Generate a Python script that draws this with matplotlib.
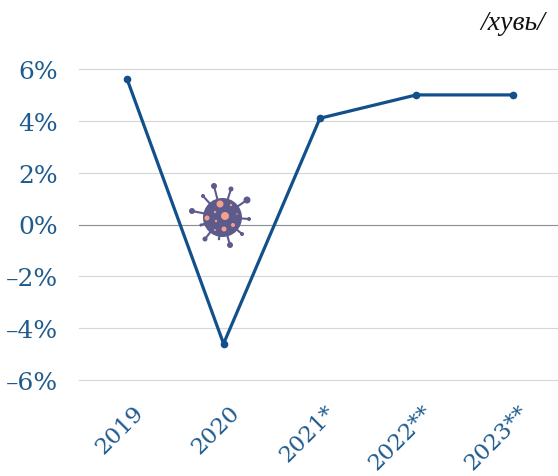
import matplotlib
matplotlib.use('Agg')
import matplotlib.pyplot as plt
from matplotlib.transforms import ScaledTranslation

W, H = 558, 477

# values
years = ['2019', '2020', '2021*', '2022**', '2023**']
growth = [5.6, -4.6, 4.1, 5.0, 5.0]
y_ticks = [-6, -4, -2, 0, 2, 4, 6]
y_labels = ['\u20136%', '\u20134%', '\u20132%', '0%', '2%', '4%', '6%']

# virus icon, in pixels from its centre
spike_x = [-8, 9, 25, 27, 20, 8, -3, -17, -21, -30, -19]
spike_y = [31, 28, 17, -2, -17, -28, -22, -22, -8, 6, 21]
spike_r = [3, 2.5, 3.5, 2, 2, 3, 1.2, 2.5, 1.5, 3, 2]
spot_x = [-2, 3, -15, 2, 11, -6, -7, 9, -7, 15]
spot_y = [13, 1, -1, -12, -8, -4, 5, 12, -13, 3]
spot_r = [3.5, 4, 2.5, 2.5, 2, 1.2, 1.2, 1.2, 1, 0.8]

line_col = '#11508a'
text_col = '#1f5b8e'
grid_col = '#d4d7da'
virus_col = '#5d5a8c'
spot_col = '#f5a08f'

plt.rcParams['font.family'] = ['DejaVu Serif']

fig = plt.figure(figsize=(W / 100, H / 100), dpi=100)
ax = fig.add_axes([79 / W, 1 - 381 / H, (W - 79) / W, (381 - 70) / H])

ax.plot(years, growth, color=line_col, lw=2.3, marker='o', ms=4.5, clip_on=False, zorder=3)
ax.set_xlim(-0.5, 4.47)
ax.set_ylim(-6, 6)
ax.set_yticks(y_ticks)
ax.set_yticklabels(y_labels)
ax.grid(axis='y', color=grid_col, lw=0.8)
for g in ax.get_ygridlines():
    g.set_clip_on(False)
ax.axhline(0, color='#8a8f96', lw=0.8, zorder=2)
ax.tick_params(length=0, labelsize=18, labelcolor=text_col)
ax.tick_params(axis='y', pad=15)
ax.tick_params(axis='x', labelsize=16.5, pad=15)
# nudge the rotated labels a little to the right of their ticks
shift = ScaledTranslation(5 / 100, 0, fig.dpi_scale_trans)
for lab in ax.get_xticklabels():
    lab.set_rotation(45)
    lab.set_ha('right')
    lab.set_va('top')
    lab.set_rotation_mode('anchor')
    lab.set_transform(lab.get_transform() + shift)
for s in ax.spines.values():
    s.set_visible(False)

fig.text(513 / W, 1 - 24 / H, '/\u0445\u0443\u0432\u044c/', ha='center', va='center',
         fontsize=20, style='italic', family='Liberation Serif', color='#111111')

# virus icon on its own small axes
box = 80
v = fig.add_axes([(222 - box / 2) / W, 1 - (218 + box / 2) / H, box / W, box / H], zorder=5)
v.set_xlim(-box / 2, box / 2)
v.set_ylim(-box / 2, box / 2)
v.axis('off')
for x, y in zip(spike_x, spike_y):
    v.plot([0, x], [0, y], color=virus_col, lw=1.5, zorder=1)
# radius in px -> marker area in points^2
v.scatter(spike_x, spike_y, s=[(2 * r * 0.72) ** 2 for r in spike_r], color=virus_col, lw=0, zorder=2)
v.scatter([0], [0], s=(2 * 19.5 * 0.72) ** 2, color=virus_col, lw=0, zorder=3)
v.scatter(spot_x, spot_y, s=[(2 * r * 0.72) ** 2 for r in spot_r], color=spot_col, lw=0, zorder=4)

fig.savefig('out.png', dpi=100)
